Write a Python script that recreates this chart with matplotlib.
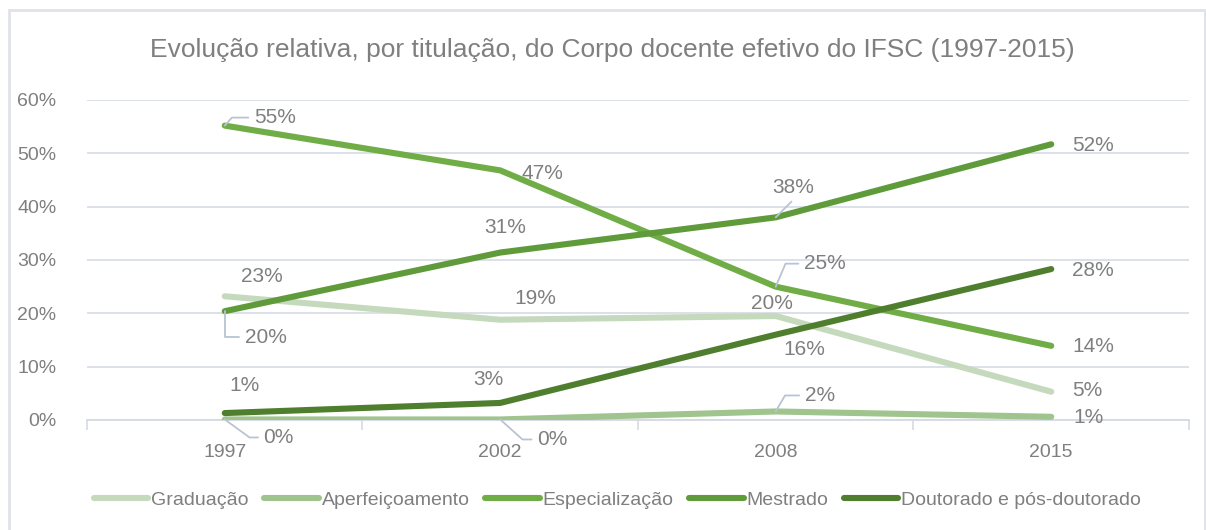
import numpy as np
import matplotlib
matplotlib.use('Agg')
import matplotlib.pyplot as plt
from matplotlib.patches import Rectangle

plt.rcParams['font.family'] = ['Liberation Sans', 'DejaVu Sans']

# dados (proporção do corpo docente)
anos = ['1997', '2002', '2008', '2015']
graduacao = [0.232, 0.188, 0.195, 0.053]
aperfeicoamento = [0.001, 0.001, 0.016, 0.006]
especializacao = [0.552, 0.468, 0.250, 0.139]
mestrado = [0.204, 0.314, 0.380, 0.517]
doutorado = [0.013, 0.032, 0.160, 0.283]
nomes = ['Graduação', 'Aperfeiçoamento', 'Especialização', 'Mestrado', 'Doutorado e pós-doutorado']
cores = ['#c5d9bd', '#9fc48d', '#70ad47', '#5f9b3a', '#4f7f2e']

# deslocamento dos rótulos (pixels) e ângulo da linha guia (None = sem guia)
rotulos = {
    'Graduação': [((37, 20), None), ((35, 21), None), ((-4, 13), None), ((36, 1), None)],
    'Aperfeiçoamento': [((54, -18), -36), ((52, -20), -42), ((44, 16), 60), ((37, -1), None)],
    'Especialização': [((50, 8), 48), ((42, -3), None), ((49, 23), 67), ((42, -1), None)],
    'Mestrado': [((41, -26), 90), ((5, 25), None), ((17, 30), 45), ((42, -1), None)],
    'Doutorado e pós-doutorado': [((20, 28), None), ((-12, 23), None), ((29, -15), None), ((42, -1), None)],
}

cinza = '#7f7f7f'
grade = '#d9dee7'
guia = '#b8c4d4'

fig = plt.figure(figsize=(12.06, 5.30), dpi=100)
fig.patches.append(Rectangle((9 / 1206, -0.1), 1196 / 1206, 1 - 10 / 530 + 0.1,
                             transform=fig.transFigure, fill=False,
                             edgecolor='#dfe3e8', linewidth=2.0))

ax = fig.add_axes([87 / 1206, 1 - 420 / 530, 1102 / 1206, 320 / 530])
x = np.arange(len(anos))
series = [graduacao, aperfeicoamento, especializacao, mestrado, doutorado]

for nome, valores, cor in zip(nomes, series, cores):
    ax.plot(x, valores, color=cor, linewidth=4.4, solid_capstyle='round',
            solid_joinstyle='round', label=nome, zorder=3)
    for i, v in enumerate(valores):
        (dx, dy), ang = rotulos[nome][i]
        txt = f'{round(v * 100):.0f}%'
        if ang is None:
            ax.annotate(txt, (x[i], v), xytext=(dx, dy), textcoords='offset pixels',
                        ha='center', va='center', fontsize=15, color=cinza, zorder=4)
        else:
            relpos = (0, 0.5) if ang != 45 else (0.2, 0)
            ax.annotate(txt, (x[i], v), xytext=(dx, dy), textcoords='offset pixels',
                        ha='center', va='center', fontsize=15, color=cinza, zorder=4,
                        arrowprops=dict(arrowstyle='-', color=guia, lw=1.3,
                                        shrinkA=2, shrinkB=0, relpos=relpos,
                                        connectionstyle=f'angle,angleA=0,angleB={ang},rad=0'))

ax.set_xlim(-0.5, 3.5)
ax.set_ylim(0, 0.6)
ax.set_yticks(np.arange(0, 0.61, 0.1))
ax.set_yticklabels([f'{int(t * 100)}%' for t in np.arange(0, 0.61, 0.1) + 1e-9])
ax.set_xticks(x)
ax.set_xticklabels(anos)
ax.set_xticks(np.arange(-0.5, 3.6, 1), minor=True)
ax.tick_params(axis='x', which='major', length=0, pad=17, labelsize=14, labelcolor=cinza)
ax.tick_params(axis='x', which='minor', length=7, color=grade, width=1.3)
ax.tick_params(axis='y', length=0, pad=22, labelsize=14, labelcolor=cinza)
ax.grid(axis='y', color=grade, linewidth=1.3)
ax.set_axisbelow(True)
for lado in ['top', 'right', 'left']:
    ax.spines[lado].set_visible(False)
ax.spines['bottom'].set_color('#d4d9e2')
ax.spines['bottom'].set_linewidth(1.3)

fig.text(0.508, 1 - 50 / 530, 'Evolução relativa, por titulação, do Corpo docente efetivo do IFSC (1997-2015)',
         ha='center', va='center', fontsize=19, color=cinza)

fig.legend(loc='center', bbox_to_anchor=(0.512, 1 - 500 / 530), ncol=5, frameon=False,
           fontsize=14, labelcolor=cinza, handlelength=2.8, handletextpad=0.15,
           columnspacing=0.8)

fig.savefig('out.png', dpi=100)
